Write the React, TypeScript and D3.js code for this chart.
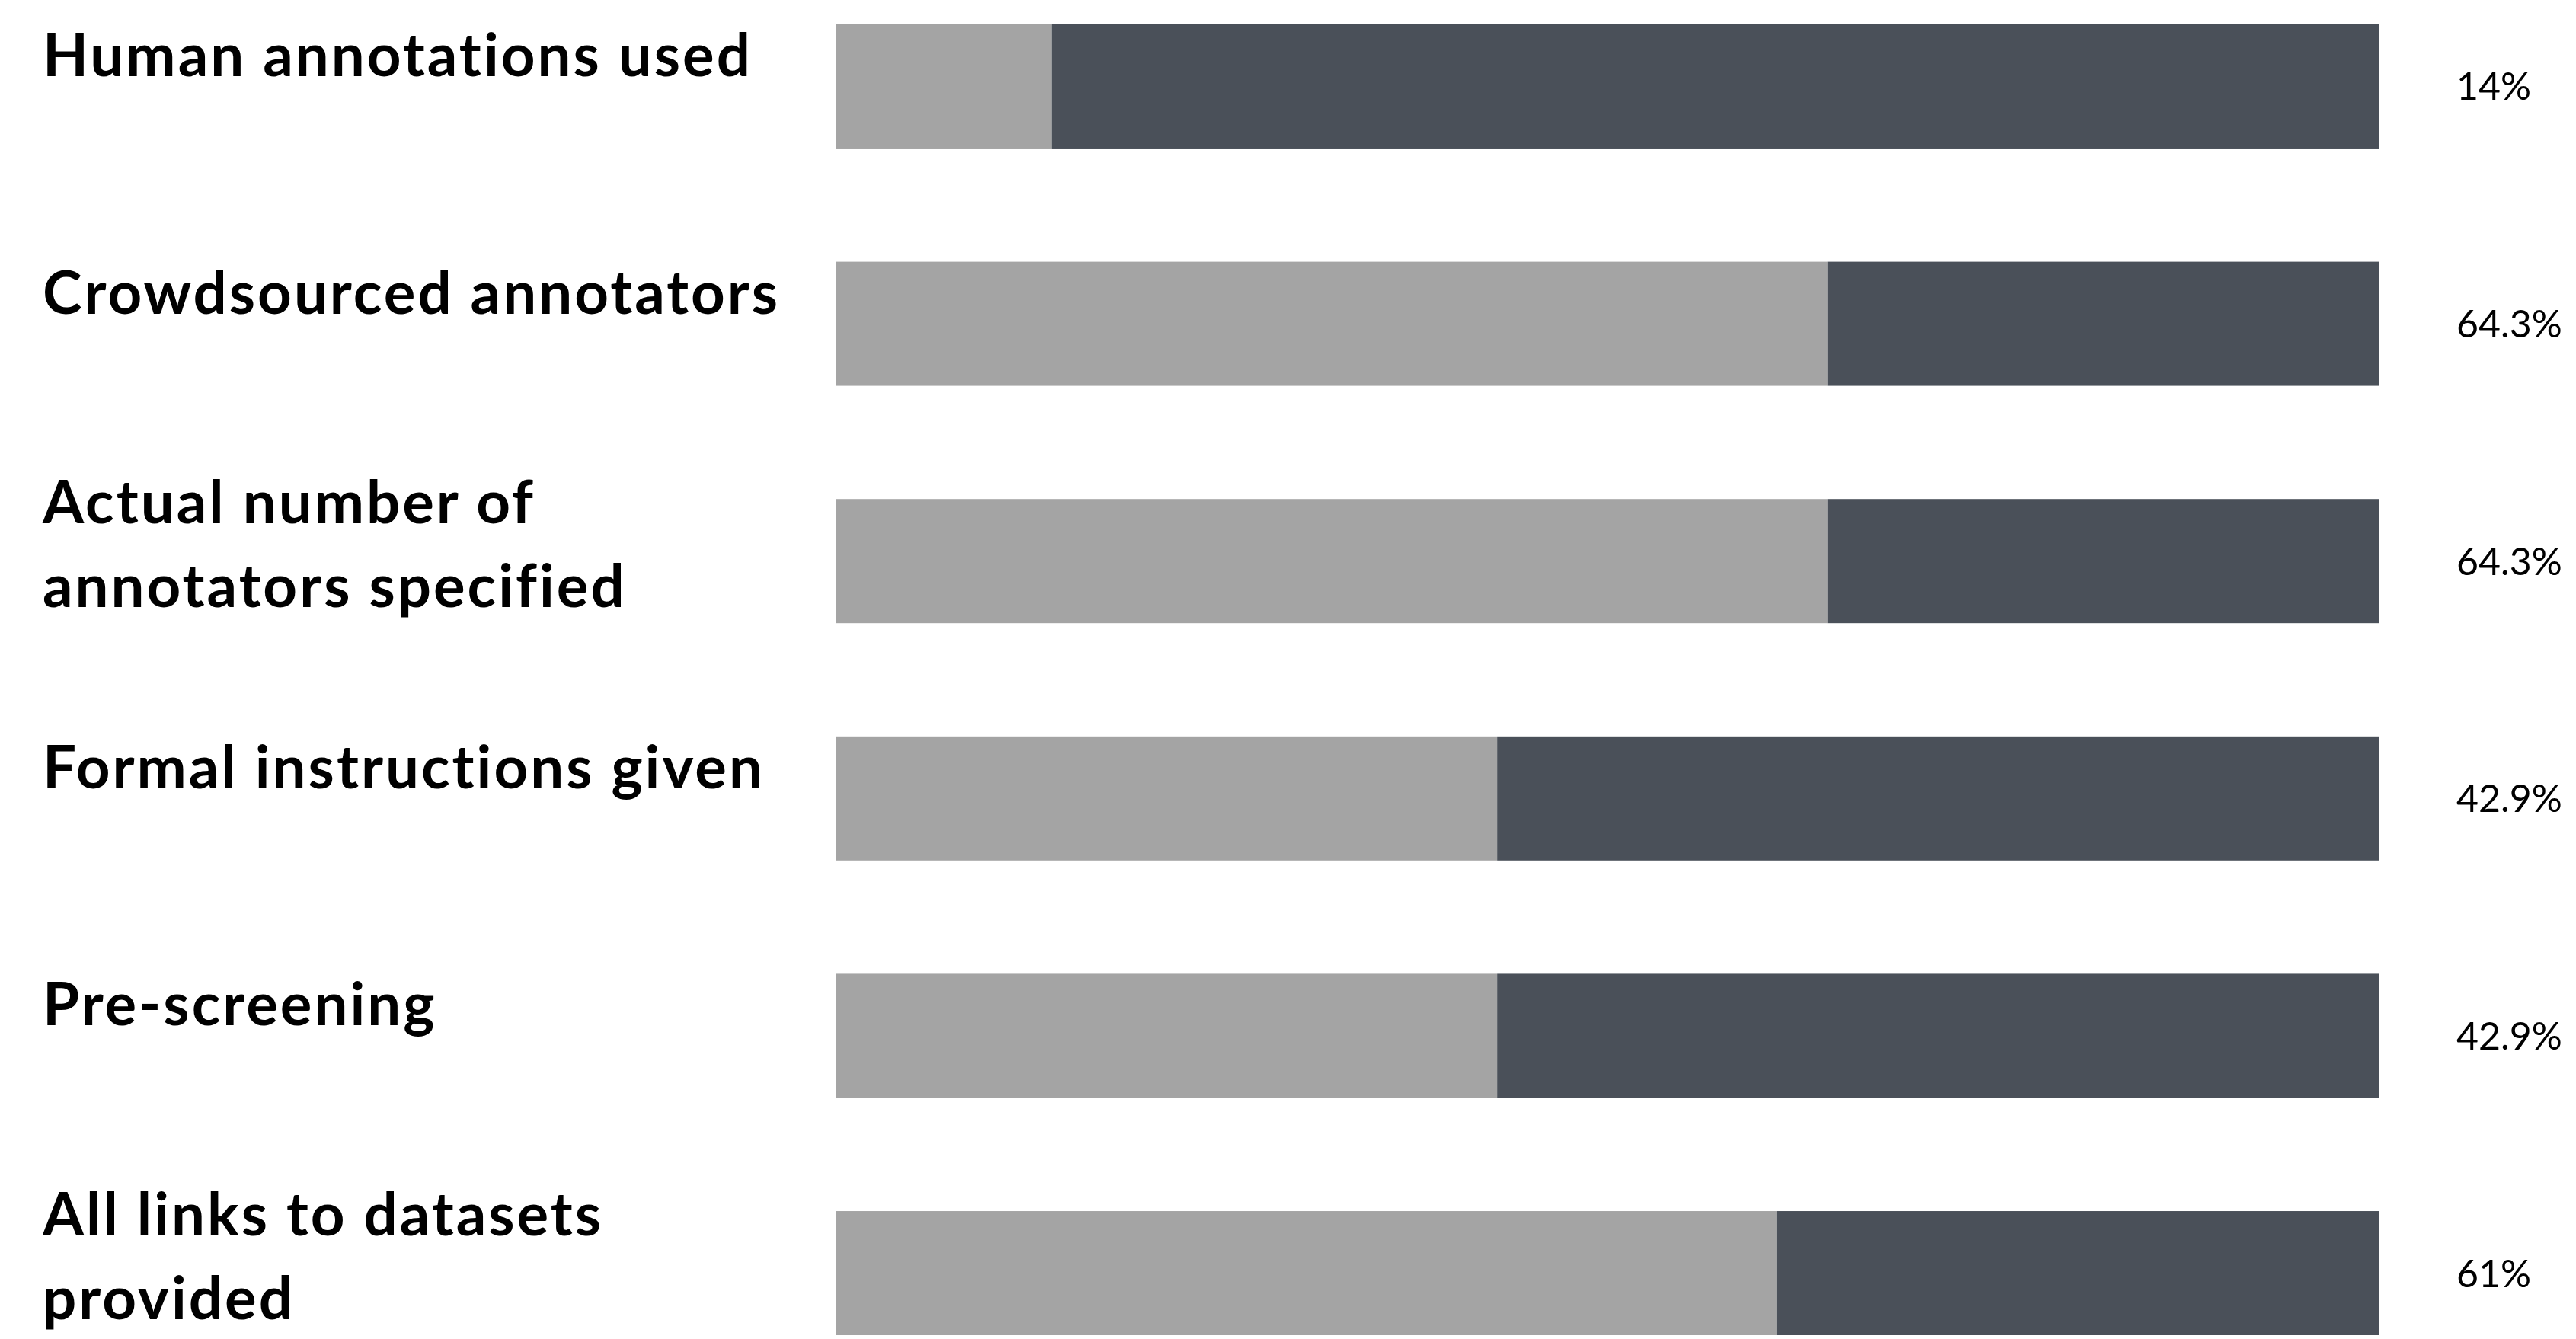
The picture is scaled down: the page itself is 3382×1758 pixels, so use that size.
import React from "react";
import * as d3 from "d3";

const categories: string[][] = [
  ["Human annotations used"],
  ["Crowdsourced annotators"],
  ["Actual number of", "annotators specified"],
  ["Formal instructions given"],
  ["Pre-screening"],
  ["All links to datasets", "provided"],
];

// share answering "yes" (light segment), in percent
const yesValues: number[] = [14, 64.3, 64.3, 42.9, 42.9, 61];

const valueLabels: string[] = ["14%", "64.3%", "64.3%", "42.9%", "42.9%", "61%"];

const W = 3382;
const H = 1758;
const LIGHT = "#a4a4a4";
const DARK = "#4a5059";

export default function App() {
  const keys = categories.map((c) => c.join(" "));
  const x = d3.scaleLinear().domain([0, 100]).range([1097, 3123]);
  const y = d3
    .scaleBand<string>()
    .domain(keys)
    .range([32, 1753])
    .paddingInner(0.477)
    .paddingOuter(0);
  const bw = y.bandwidth();

  return (
    <svg
      width={W}
      height={H}
      style={{ position: "absolute", left: 0, top: 0, background: "#fff" }}
    >
      <rect x={0} y={0} width={W} height={H} fill="#fff" />
      {keys.map((k, i) => {
        const top = y(k) as number;
        const lines = categories[i];
        const multi = lines.length > 1;
        const firstBaseline = multi ? top + 32 : top + 68;
        return (
          <g key={k}>
            <rect
              x={x(0)}
              y={top}
              width={x(yesValues[i]) - x(0)}
              height={bw}
              fill={LIGHT}
            />
            <rect
              x={x(yesValues[i])}
              y={top}
              width={x(100) - x(yesValues[i])}
              height={bw}
              fill={DARK}
            />
            <text
              x={56}
              y={firstBaseline}
              fontFamily="Lato, 'Noto Sans', sans-serif"
              fontWeight={700}
              fontSize={78}
              letterSpacing={3}
              fill="#000"
            >
              {lines.map((ln, j) => (
                <tspan key={j} x={56} dy={j === 0 ? 0 : 110}>
                  {ln}
                </tspan>
              ))}
            </text>
            <text
              x={3225}
              y={top + bw / 2 + 18}
              fontFamily="Lato, 'Noto Sans', sans-serif"
              fontWeight={400}
              fontSize={50}
              fill="#000"
            >
              {valueLabels[i]}
            </text>
          </g>
        );
      })}
    </svg>
  );
}
